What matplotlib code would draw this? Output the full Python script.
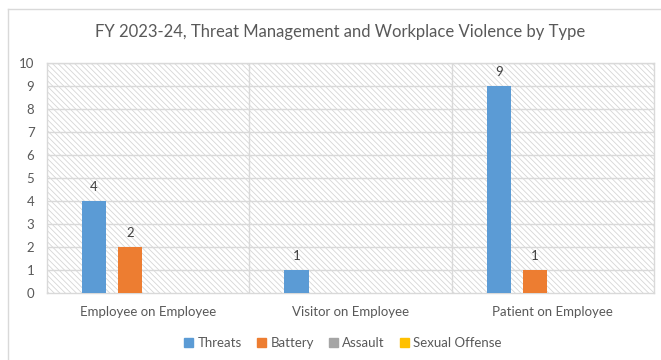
import matplotlib.pyplot as plt
import numpy as np
from matplotlib.patches import Rectangle
from matplotlib.lines import Line2D

plt.rcParams['font.family'] = ['Lato', 'DejaVu Sans']
plt.rcParams['hatch.linewidth'] = 0.6
plt.rcParams['hatch.color'] = '#d6d6d6'

# Данные
categories = ['Employee on Employee', 'Visitor on Employee', 'Patient on Employee']
series_names = ['Threats', 'Battery', 'Assault', 'Sexual Offense']
threats = [4, 1, 9]
battery = [2, 0, 1]
assault = [0, 0, 0]
sexual_offense = [0, 0, 0]
colors = ['#5b9bd5', '#ed7d31', '#a5a5a5', '#ffc000']

text_color = '#595959'
grid_color = '#d9d9d9'

fig = plt.figure(figsize=(6.61, 3.6), dpi=100)
ax = fig.add_axes([0.0711, 0.1861, 0.9183, 0.6389])

# Фон с диагональной штриховкой
ax.add_patch(Rectangle((0, 0), 1, 1, transform=ax.transAxes, facecolor='white',
                       hatch='\\' * 6, edgecolor='#d6d6d6', linewidth=0, zorder=0))

x = np.arange(len(categories))
width = 0.119
step = 0.178
values = [threats, battery, assault, sexual_offense]
for i, (name, vals) in enumerate(zip(series_names, values)):
    pos = x + (i - 1.5) * step
    ax.bar(pos, vals, width, color=colors[i], label=name, zorder=3)
    for p, v in zip(pos, vals):
        if v > 0:
            ax.text(p, v + 0.35, str(v), ha='center', va='bottom', fontsize=9.5,
                    color='#404040', zorder=4)

ax.set_xlim(-0.5, 2.5)
ax.set_ylim(0, 10)
ax.set_yticks(range(0, 11))
ax.set_xticks(x)
ax.set_xticklabels(categories)
ax.tick_params(axis='both', length=0, colors=text_color, labelsize=9.5)
ax.tick_params(axis='x', pad=9)
ax.tick_params(axis='y', pad=9)

# Сетка
for yv in range(1, 11):
    ax.axhline(yv, color=grid_color, linewidth=1.0, zorder=1)
for xv in [0.5, 1.5]:
    ax.axvline(xv, color=grid_color, linewidth=1.0, zorder=1)
for s in ax.spines.values():
    s.set_color(grid_color)
    s.set_linewidth(1.0)

fig.text(0.514, 0.912, 'FY 2023-24, Threat Management and Workplace Violence by Type',
         ha='center', va='center', fontsize=12, color=text_color)

handles = [Rectangle((0, 0), 1, 1, color=c) for c in colors]
fig.legend(handles, series_names, loc='center', bbox_to_anchor=(0.519, 0.047),
           ncol=4, frameon=False, fontsize=9.5, labelcolor=text_color,
           handlelength=0.65, handleheight=0.65, handletextpad=0.35, columnspacing=1.15)

# Рамка диаграммы
fig.add_artist(Line2D([0.0125, 1.0], [0.975, 0.975], color=grid_color, linewidth=1.0,
                      transform=fig.transFigure))
fig.add_artist(Line2D([0.0125, 0.0125], [0.0, 0.975], color=grid_color, linewidth=1.0,
                      transform=fig.transFigure))

fig.savefig('out.png', dpi=100)
